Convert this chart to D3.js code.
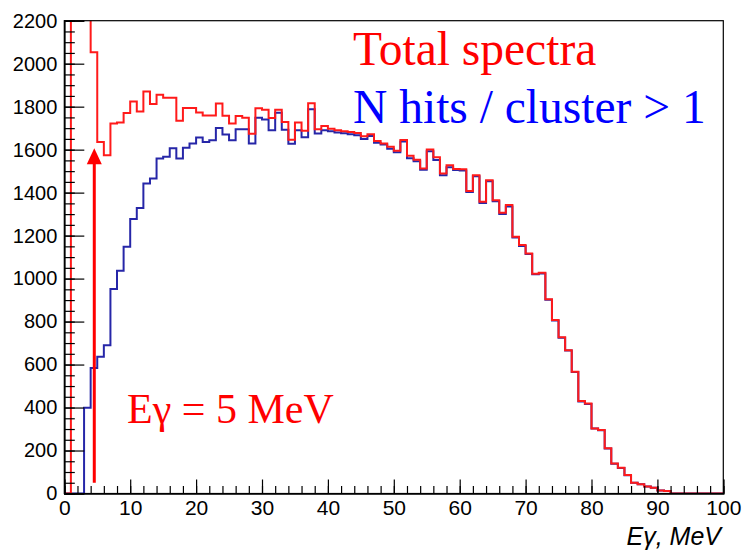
<!DOCTYPE html>
<html><head><meta charset="utf-8">
<script src="https://cdn.jsdelivr.net/npm/d3@7"></script>
<style>
html,body{margin:0;padding:0;background:#fff;}
svg{display:block;}
</style></head>
<body>
<svg id="chart" width="744" height="552"></svg>
<script>
// Bin edges: 100 bins of 1 MeV from 0 to 100
const binEdges = d3.range(0, 101, 1);
// Total spectra (red), counts per 1 MeV bin; bins 1-3 are off scale
const totalSpectra = [
  0, 4000, 4000, 4000, 2053, 1636, 1574, 1722, 1726, 1771,
  1824, 1778, 1871, 1812, 1855, 1841, 1841, 1734, 1794, 1794,
  1773, 1759, 1759, 1815, 1758, 1722, 1757, 1748, 1674, 1793,
  1786, 1747, 1786, 1729, 1646, 1726, 1688, 1816, 1695, 1710,
  1697, 1690, 1686, 1682, 1678, 1662, 1672, 1640, 1629, 1613,
  1595, 1645, 1572, 1553, 1512, 1601, 1565, 1489, 1527, 1510,
  1509, 1408, 1481, 1357, 1458, 1365, 1306, 1342, 1195, 1156,
  1117, 1023, 1027, 904, 807, 727, 667, 567, 430, 419,
  303, 295, 210, 140, 120, 86, 50, 43, 33, 27,
  14, 12, 0, 0, 0, 0, 0, 0, 0, 0
];
// N hits / cluster > 1 (blue)
const multiHit = [
  0, 0, 0, 399, 584, 636, 690, 951, 1036, 1148,
  1277, 1329, 1443, 1466, 1559, 1567, 1606, 1559, 1609, 1629,
  1657, 1635, 1644, 1701, 1671, 1644, 1695, 1695, 1629, 1748,
  1740, 1690, 1772, 1692, 1628, 1690, 1658, 1788, 1675, 1690,
  1686, 1680, 1676, 1672, 1667, 1650, 1663, 1632, 1624, 1604,
  1588, 1638, 1560, 1546, 1506, 1593, 1552, 1481, 1518, 1505,
  1503, 1403, 1476, 1352, 1453, 1360, 1301, 1335, 1191, 1152,
  1114, 1020, 1024, 901, 805, 725, 665, 565, 428, 417,
  302, 294, 209, 139, 119, 85, 50, 43, 33, 27,
  14, 12, 0, 0, 0, 0, 0, 0, 0, 0
];
const xMajorTicks = d3.range(0, 101, 10);
const xMinorTicks = d3.range(0, 101, 2);
const yMajorTicks = d3.range(0, 2201, 200);
const yMinorTicks = d3.range(0, 2201, 50);
const legendLabels = ["Total spectra", "N hits / cluster > 1"];
const arrowLabel = "E\u03b3 = 5 MeV";
const arrowEnergy = 4.55;
const arrowFrom = 50, arrowTo = 1607;
const xTitle = "E\u03b3, MeV";

const svg = d3.select("#chart");
const L = 64.3, R = 723.3, T = 20.7, B = 493.5;
const x = d3.scaleLinear().domain([0, 100]).range([L, R]);
const y = d3.scaleLinear().domain([0, 2200]).range([B, T]);

svg.append("defs").append("clipPath").attr("id", "clip")
  .append("rect").attr("x", L).attr("y", T).attr("width", R - L).attr("height", B - T);

function stepPoints(vals) {
  const pts = [[binEdges[0], 0]];
  vals.forEach((v, i) => { pts.push([binEdges[i], v]); pts.push([binEdges[i + 1], v]); });
  pts.push([binEdges[binEdges.length - 1], 0]);
  return pts;
}
const line = d3.line().x(d => x(d[0])).y(d => y(d[1]));

const g = svg.append("g").attr("clip-path", "url(#clip)");
g.append("path").attr("d", line(stepPoints(multiHit)))
  .attr("fill", "none").attr("stroke", "#2626a8").attr("stroke-width", 2);
g.append("path").attr("d", line(stepPoints(totalSpectra)))
  .attr("fill", "none").attr("stroke", "#ff1a1a").attr("stroke-width", 2);

// axes
const font = "'Liberation Sans', Arial, sans-serif";
const xAxisMinor = d3.axisBottom(x).tickValues(xMinorTicks).tickSize(-7.5).tickFormat("");
const xAxisMajor = d3.axisBottom(x).tickValues(xMajorTicks).tickSize(-14).tickPadding(7).tickFormat(d3.format("d"));
const yAxisMinor = d3.axisLeft(y).tickValues(yMinorTicks).tickSize(-10.5).tickFormat("");
const yAxisMajor = d3.axisLeft(y).tickValues(yMajorTicks).tickSize(-20).tickPadding(7).tickFormat(d3.format("d"));

function styleAxis(sel, size) {
  sel.selectAll("path.domain").attr("stroke", "#000").attr("stroke-width", 1.2);
  sel.selectAll("line").attr("stroke", "#000").attr("stroke-width", 1.2);
  sel.selectAll("text").attr("fill", "#000").style("font-family", font).style("font-size", size + "px");
}
svg.append("g").attr("transform", `translate(0,${B})`).call(xAxisMinor).call(styleAxis, 21);
svg.append("g").attr("transform", `translate(0,${B})`).call(xAxisMajor).call(styleAxis, 21);
svg.append("g").attr("transform", `translate(${L},0)`).call(yAxisMinor).call(styleAxis, 20);
svg.append("g").attr("transform", `translate(${L},0)`).call(yAxisMajor).call(styleAxis, 20);

// frame
svg.append("rect").attr("x", L).attr("y", T).attr("width", R - L).attr("height", B - T)
  .attr("fill", "none").attr("stroke", "#000").attr("stroke-width", 1.2);

// axis title
svg.append("text").attr("x", 721).attr("y", 545).attr("text-anchor", "end")
  .style("font-family", font).style("font-size", "25px").style("font-style", "italic")
  .attr("fill", "#000").text(xTitle);

// legend text
const serif = "'Liberation Serif', 'Times New Roman', serif";
svg.append("text").attr("x", 353).attr("y", 65).attr("fill", "#ff0000")
  .style("font-family", serif).style("font-size", "47.5px").text(legendLabels[0]);
svg.append("text").attr("x", 353).attr("y", 122.5).attr("fill", "#0000ff")
  .style("font-family", serif).style("font-size", "47.5px").text(legendLabels[1]);

// arrow annotation
const ax = x(arrowEnergy);
const tipY = y(arrowTo);
svg.append("line").attr("x1", ax).attr("x2", ax).attr("y1", y(arrowFrom)).attr("y2", tipY + 12)
  .attr("stroke", "#ff0000").attr("stroke-width", 3);
svg.append("path").attr("d", `M${ax},${tipY} L${ax - 7.5},${tipY + 16} L${ax + 7.5},${tipY + 16} Z`)
  .attr("fill", "#ff0000");
svg.append("text").attr("x", 127).attr("y", 423).attr("fill", "#ff0000")
  .style("font-family", serif).style("font-size", "42px").text(arrowLabel);
</script>
</body></html>
